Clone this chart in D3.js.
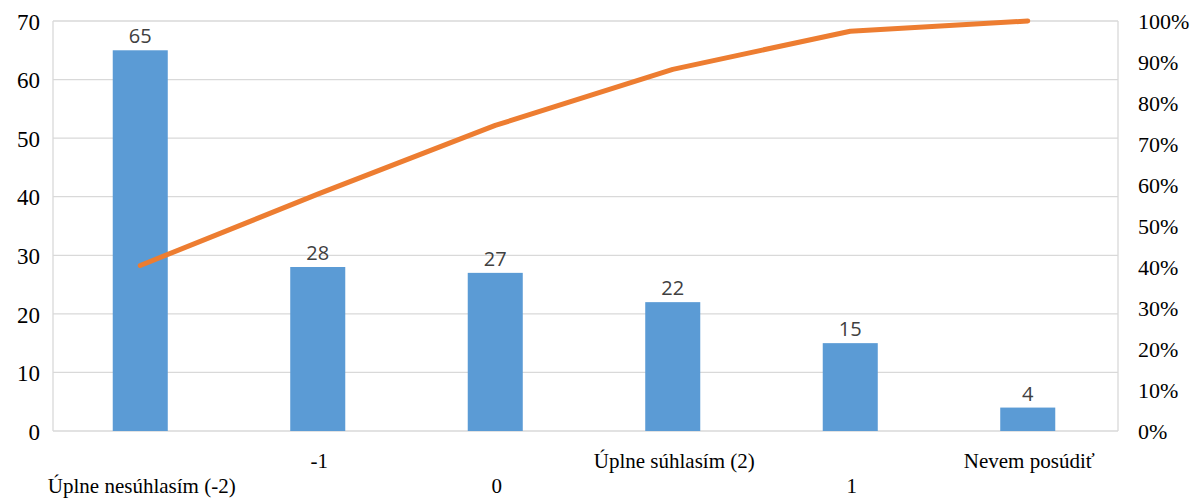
<!DOCTYPE html>
<html>
<head>
<meta charset="utf-8">
<script src="https://cdn.jsdelivr.net/npm/d3@7"></script>
<style>
  html, body { margin: 0; padding: 0; background: #fff; }
  svg { display: block; }
</style>
</head>
<body>
<svg id="chart" width="1195" height="498"></svg>
<script>
// Answer categories, in descending order of count
const categories = ["Úplne nesúhlasím (-2)", "-1", "0", "Úplne súhlasím (2)", "1", "Nevem posúdiť"];
// Number of responses per category
const counts = [65, 28, 27, 22, 15, 4];
// Left and right axis ticks
const countTicks = [0, 10, 20, 30, 40, 50, 60, 70];
const pctTicks = [0, 0.1, 0.2, 0.3, 0.4, 0.5, 0.6, 0.7, 0.8, 0.9, 1.0];

const SERIF = "'Liberation Serif', 'Times New Roman', 'DejaVu Serif', serif";

const total = d3.sum(counts);
const cumulative = d3.cumsum(counts).map(v => v / total);

const svg = d3.select("#chart");
const margin = { left: 53, right: 77, top: 21, bottom: 67 };
const W = 1195, H = 498;
const x0 = margin.left, x1 = W - margin.right;
const y0 = H - margin.bottom, y1 = margin.top;

const x = d3.scaleBand().domain(categories).range([x0, x1]).paddingInner(0).paddingOuter(0);
const y = d3.scaleLinear().domain([0, 70]).range([y0, y1]);
const yPct = d3.scaleLinear().domain([0, 1]).range([y0, y1]);

const gridColor = "#d9d9d9";

// Horizontal gridlines
svg.append("g").selectAll("line").data(countTicks).join("line")
  .attr("x1", x0).attr("x2", x1)
  .attr("y1", d => y(d)).attr("y2", d => y(d))
  .attr("stroke", gridColor).attr("stroke-width", 1.3);

// Plot frame sides
svg.append("line").attr("x1", x0).attr("x2", x0).attr("y1", y1).attr("y2", y0)
  .attr("stroke", gridColor).attr("stroke-width", 1.3);
svg.append("line").attr("x1", x1).attr("x2", x1).attr("y1", y1).attr("y2", y0)
  .attr("stroke", gridColor).attr("stroke-width", 1.3);

// Left axis labels
const leftAxis = d3.axisLeft(y).tickValues(countTicks).tickSize(0).tickPadding(13);
const gl = svg.append("g").attr("transform", `translate(${x0},0)`).call(leftAxis);
gl.select(".domain").remove();
gl.selectAll("text")
  .style("font-family", SERIF)
  .style("font-size", "23px").attr("fill", "#000").attr("dy", "0.36em");

// Right axis labels
const rightAxis = d3.axisRight(yPct).tickValues(pctTicks).tickSize(0).tickPadding(20)
  .tickFormat(d3.format(".0%"));
const gr = svg.append("g").attr("transform", `translate(${x1},0)`).call(rightAxis);
gr.select(".domain").remove();
gr.selectAll("text")
  .style("font-family", SERIF)
  .style("font-size", "22px").attr("fill", "#000").attr("dy", "0.36em");

// Bars
const barW = x.bandwidth() * 0.31;
svg.append("g").selectAll("rect").data(counts).join("rect")
  .attr("x", (d, i) => x(categories[i]) + x.bandwidth() / 2 - barW / 2 - 1.5)
  .attr("y", d => y(d))
  .attr("width", barW)
  .attr("height", d => y0 - y(d))
  .attr("fill", "#5b9bd5");

// Bar value labels
svg.append("g").selectAll("text").data(counts).join("text")
  .attr("x", (d, i) => x(categories[i]) + x.bandwidth() / 2 - 1.5)
  .attr("y", d => y(d) - 7)
  .attr("text-anchor", "middle")
  .attr("font-family", "'Open Sans', 'Liberation Sans', sans-serif")
  .attr("font-size", 20).attr("fill", "#404040")
  .text(d => d);

// Cumulative percentage line
const line = d3.line()
  .x((d, i) => x(categories[i]) + x.bandwidth() / 2 - 1.5)
  .y(d => yPct(d));
svg.append("path").datum(cumulative)
  .attr("d", line)
  .attr("fill", "none")
  .attr("stroke", "#ed7d31")
  .attr("stroke-width", 5)
  .attr("stroke-linecap", "round")
  .attr("stroke-linejoin", "round");

// Category labels, staggered on two rows
svg.append("g").selectAll("text").data(categories).join("text")
  .attr("x", d => x(d) + x.bandwidth() / 2)
  .attr("y", (d, i) => i % 2 === 1 ? 468 : 493)
  .attr("text-anchor", "middle")
  .style("font-family", SERIF)
  .style("font-size", "21px").attr("fill", "#000")
  .text(d => d);
</script>
</body>
</html>
